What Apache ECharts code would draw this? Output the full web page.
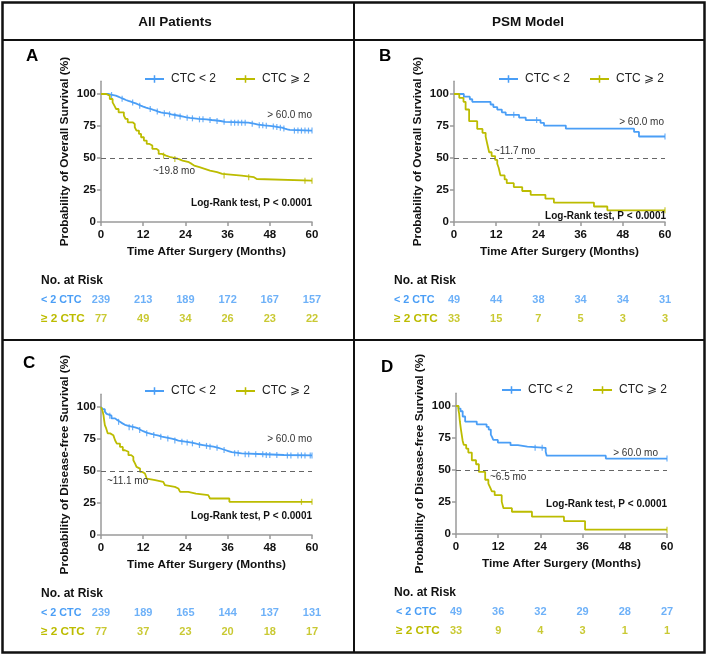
<!DOCTYPE html>
<html><head><meta charset="utf-8">
<script src="https://cdn.jsdelivr.net/npm/echarts@6/dist/echarts.min.js"></script>
<style>html,body{margin:0;padding:0;background:#fff}#c{width:708px;height:656px}</style>
</head><body><div id="c"></div>
<script>
// ---------- DATA ----------
const timeTicks = [0, 12, 24, 36, 48, 60];
const seriesNames = ['CTC < 2', 'CTC \u2A7E 2'];
const riskRowNames = ['< 2 CTC', '\u2265 2 CTC'];

// A: overall survival, all patients  [months, survival %]
const osAllLow = [[0,100],[2,99.6],[2.8,99.2],[3.5,98.7],[4.2,97.9],[4.9,97.1],[5.6,96.2],[6.4,95.3],[7.1,94.6],[7.8,94],[8.5,93.3],[9.2,92.7],[9.9,91.8],[10.6,90.9],[11.3,90.1],[12,89.3],[12.8,88.7],[13.5,88.3],[14.2,87.6],[14.9,87],[15.6,86.3],[16.3,85.7],[17,85.2],[17.7,84.9],[19.1,84.1],[20,83.6],[21,83],[22.2,82.4],[23.4,81.8],[24.3,81.4],[25.3,81],[26.5,80.6],[27.7,80.2],[30,79.7],[31.5,79.3],[32.9,78.9],[34,78.3],[35.3,77.6],[41.9,76.8],[43.5,76.1],[44.7,75.5],[46.5,75.1],[48,74.7],[49.2,74.2],[50.4,73.7],[51.5,73],[52.3,72.4],[53,71.9],[53.7,71.4],[60,71.4]];
const osAllHigh = [[0,100],[1.5,98.7],[2.5,96.1],[3.3,93.5],[3.8,90.9],[4.3,88.3],[5,85.7],[6.5,83.1],[7,80.5],[7.6,77.9],[9,76.6],[9.6,74],[10.1,71.4],[10.8,68.8],[11.4,66.2],[12.2,63.6],[13,61],[13.8,59.7],[14.6,57.1],[15.8,55.8],[16.4,53.2],[17.3,51.9],[18.5,50.6],[19.8,49.3],[22,48],[23.2,46.7],[25,45.4],[25.8,44.1],[26.5,42.8],[28,41.5],[29.5,40.2],[31,38.9],[33,37.6],[34.5,36.3],[40,35],[43.5,33.6],[44.3,32.3],[60,32.3]];
const osAllLowCens = [3,6,9,11,14,16,18,19.5,21,22.5,24.5,26,28,29,31,33,35,37,38,39,40,41,43,45,46,47,49,50,51,52,55,56,57,58,59,60];
const osAllHighCens = [17.8,21,35,42,58,60];
const osAllRiskLow = [239,213,189,172,167,157];
const osAllRiskHigh = [77,49,34,26,23,22];

// B: overall survival, PSM model
const osPsmLow = [[0,100],[2.8,97.9],[4.5,95.9],[5.2,93.9],[10.4,91.8],[11.2,89.8],[12.3,87.8],[13.6,85.7],[14.7,83.7],[18.5,81.6],[20.4,79.6],[24.6,77.5],[25.6,75.3],[31.8,72.9],[51.2,70.4],[52.6,66.8],[60,66.8]];
const osPsmHigh = [[0,100],[1.5,97],[2.7,93.9],[3.3,87.9],[4.3,78.8],[6.6,72.7],[8.1,69.7],[9,66.7],[9.5,60.6],[10,54.5],[10.7,51.5],[11.7,48.5],[12.3,45.5],[12.7,42.4],[13.2,36.4],[14.4,33.3],[15,30.3],[17,27.3],[19.4,24.2],[21.8,21.2],[26,18.2],[28.4,15.2],[39.8,12.1],[43.6,9.1],[60,9.1]];
const osPsmLowCens = [17,23.5,60];
const osPsmHighCens = [60];
const osPsmRiskLow = [49,44,38,34,34,31];
const osPsmRiskHigh = [33,15,7,5,3,3];

// C: disease-free survival, all patients
const dfsAllLow = [[0,100],[0.5,98.3],[1.1,96.4],[1.6,94.6],[2.1,93.2],[3,91.1],[4,89.6],[4.7,88.4],[5.4,87.2],[6.1,86.1],[6.8,85.2],[7.8,84.1],[9.7,83.3],[10.6,82],[11.3,81.1],[12,80.2],[12.8,79.5],[13.5,78.9],[14.5,78.2],[15.4,77.6],[16.4,76.8],[17.3,76],[18.7,75.3],[20.1,74.7],[21,73.8],[22,72.9],[24,72.2],[25.8,71.6],[26.8,70.9],[27.7,70.3],[29,69.6],[30.5,69],[32,68.1],[33.4,67.2],[34.4,66.4],[35.3,65.6],[36.2,64.7],[37.2,63.8],[40,63.1],[46.6,62.5],[52,62.2],[60,62.2]];
const dfsAllHigh = [[0,100],[0.4,97.4],[0.7,93.8],[0.9,89.6],[1.1,85.9],[1.5,83.1],[1.9,79.4],[2.6,78],[3.5,76.6],[4,74],[4.5,71.4],[5.4,68.8],[6.2,66.2],[6.8,65],[7.8,62.4],[8.6,61],[9.2,58.4],[9.7,55.8],[10.1,53.2],[10.6,51.9],[11.1,49.3],[11.8,48],[12.5,46.7],[13,44.1],[13.5,42.8],[15.4,41.5],[17.7,40.2],[18.2,38.9],[18.7,37.6],[21,36.3],[22,35],[22.5,33.7],[24.8,32.4],[27,31.1],[30.5,29.8],[31,28.5],[36.5,25.9],[60,25.9]];
const dfsAllLowCens = [2.5,5,8,9,11,13,15,17,19,21,23,24.5,26,28,30,31,33,35,38,39,41,42,44,46,47,48,50,53,54,56,57,58,59.5,60];
const dfsAllHighCens = [57,60];
const dfsAllRiskLow = [239,189,165,144,137,131];
const dfsAllRiskHigh = [77,37,23,20,18,17];

// D: disease-free survival, PSM model
const dfsPsmLow = [[0,100],[0.7,98],[1.3,95.9],[1.9,91.8],[2.6,87.8],[5.9,85.7],[8.7,83.7],[9.3,81.6],[9.9,77.6],[10.3,75.5],[10.6,73.5],[11.9,71.4],[15.5,69.4],[17.6,68.3],[20.3,67.3],[25.5,64.3],[25.8,61.2],[42.6,58.9],[60,58.9]];
const dfsPsmHigh = [[0,100],[0.7,97],[0.9,93.9],[1.1,87.9],[1.4,81.8],[1.9,72.7],[2.2,69.7],[2.9,66.7],[3.5,63.6],[4.5,57.6],[5.7,54.5],[6.5,48.5],[8.3,42.4],[9.2,39.4],[9.7,36.4],[10.2,33.3],[11,30.3],[13,25.3],[13.5,20.2],[15.9,17.4],[21.6,13.5],[30.7,10.1],[36.7,3.4],[60,3.4]];
const dfsPsmLowCens = [22.5,24.5,60];
const dfsPsmHighCens = [60];
const dfsPsmRiskLow = [49,36,32,29,28,27];
const dfsPsmRiskHigh = [33,9,4,3,1,1];

// ---------- STYLE / LAYOUT ----------
const FONT = '"Liberation Sans", Arial, Helvetica, sans-serif';
const BLUE = '#4a9ef6', YEL = '#bcbc00', AX = '#9a9a9a';

function survAt(curve, t) { let s = curve[0][1]; for (const p of curve) if (p[0] <= t) s = p[1]; return s; }

const panels = [
  { letter:'A', low:osAllLow, high:osAllHigh, lowC:osAllLowCens, highC:osAllHighCens, rLow:osAllRiskLow, rHigh:osAllRiskHigh,
    yName:'Probability of Overall Survival (%)', gx:101, gy0:222, gy100:94, legendX:140, legendY:75, riskY:300, letterX:26, letterY:57,
    ann:[['> 60.0 mo',312,115,'right',false],['~19.8 mo',153,171,'left',false],['Log-Rank test, P < 0.0001',312,203,'right',true]] },
  { letter:'B', low:osPsmLow, high:osPsmHigh, lowC:osPsmLowCens, highC:osPsmHighCens, rLow:osPsmRiskLow, rHigh:osPsmRiskHigh,
    yName:'Probability of Overall Survival (%)', gx:454, gy0:222, gy100:94, legendX:494, legendY:75, riskY:300, letterX:379, letterY:57,
    ann:[['> 60.0 mo',664,122,'right',false],['~11.7 mo',494,151,'left',false],['Log-Rank test, P < 0.0001',666,216,'right',true]] },
  { letter:'C', low:dfsAllLow, high:dfsAllHigh, lowC:dfsAllLowCens, highC:dfsAllHighCens, rLow:dfsAllRiskLow, rHigh:dfsAllRiskHigh,
    yName:'Probability of Disease-free Survival (%)', gx:101, gy0:535, gy100:407, legendX:140, legendY:387, riskY:613, letterX:23, letterY:364,
    ann:[['> 60.0 mo',312,439,'right',false],['~11.1 mo',107,481,'left',false],['Log-Rank test, P < 0.0001',312,516,'right',true]] },
  { letter:'D', low:dfsPsmLow, high:dfsPsmHigh, lowC:dfsPsmLowCens, highC:dfsPsmHighCens, rLow:dfsPsmRiskLow, rHigh:dfsPsmRiskHigh,
    yName:'Probability of Disease-free Survival (%)', gx:456, gy0:534, gy100:406, legendX:497, legendY:386, riskY:612, letterX:381, letterY:368,
    ann:[['> 60.0 mo',658,453,'right',false],['~6.5 mo',490,477,'left',false],['Log-Rank test, P < 0.0001',667,504,'right',true]] }
];

const grid = [], xAxis = [], yAxis = [], series = [], legend = [], graphic = [];
const plotW = 211;

panels.forEach((p, i) => {
  const ppu = (p.gy0 - p.gy100) / 100;
  const top = p.gy100 - 10 * ppu;
  grid.push({ left: p.gx, top: top, width: plotW, height: p.gy0 - top });
  const gi = grid.length - 1;
  xAxis.push({ gridIndex: gi, type: 'value', min: 0, max: 60, interval: 12,
    name: 'Time After Surgery (Months)', nameLocation: 'middle', nameGap: 24,
    nameTextStyle: { fontFamily: FONT, fontWeight: 'bold', fontSize: 11.8, color: '#111' },
    axisLine: { lineStyle: { color: AX, width: 1.5 } }, axisTick: { length: 4, lineStyle: { color: AX, width: 1.5 } },
    axisLabel: { margin: 7, fontFamily: FONT, fontWeight: 'bold', fontSize: 11.5, color: '#111' },
    splitLine: { show: false } });
  yAxis.push({ gridIndex: gi, type: 'value', min: 0, max: 110,
    name: p.yName, nameLocation: 'middle', nameGap: 30, nameRotate: 90,
    nameTextStyle: { fontFamily: FONT, fontWeight: 'bold', fontSize: 11.8, color: '#111' },
    axisLine: { show: true, lineStyle: { color: AX, width: 1.5 } },
    axisTick: { show: true, length: 4, lineStyle: { color: AX, width: 1.5 }, customValues: [0,25,50,75,100] },
    axisLabel: { margin: 5, fontFamily: FONT, fontWeight: 'bold', fontSize: 11.5, color: '#111', customValues: [0,25,50,75,100] },
    splitLine: { show: false } });

  series.push({ name: seriesNames[0], type: 'line', step: 'end', xAxisIndex: gi, yAxisIndex: gi, data: p.low,
    showSymbol: false, symbol: 'none', lineStyle: { color: BLUE, width: 1.8 }, itemStyle: { color: BLUE }, z: 3,
    markLine: { silent: true, symbol: 'none', label: { show: false }, lineStyle: { type: [5, 4], color: '#666', width: 1 }, data: [{ yAxis: 50 }] } });
  series.push({ name: seriesNames[1], type: 'line', step: 'end', xAxisIndex: gi, yAxisIndex: gi, data: p.high,
    showSymbol: false, symbol: 'none', lineStyle: { color: YEL, width: 1.8 }, itemStyle: { color: YEL }, z: 3 });
  series.push({ type: 'scatter', xAxisIndex: gi, yAxisIndex: gi, data: p.lowC.map(t => [t, survAt(p.low, t)]),
    symbol: 'rect', symbolSize: [1.2, 6], itemStyle: { color: BLUE }, z: 4, silent: true });
  series.push({ type: 'scatter', xAxisIndex: gi, yAxisIndex: gi, data: p.highC.map(t => [t, survAt(p.high, t)]),
    symbol: 'rect', symbolSize: [1.2, 6], itemStyle: { color: YEL }, z: 4, silent: true });

  legend.push({ left: p.legendX, top: p.legendY - 7, itemWidth: 19, itemHeight: 8, itemGap: 20, selectedMode: false,
    icon: 'path://M0,3H20V5H0Z M9.2,0H10.8V8H9.2Z',
    data: [{ name: seriesNames[0], itemStyle: { color: BLUE } }, { name: seriesNames[1], itemStyle: { color: YEL } }],
    textStyle: { fontFamily: FONT, fontSize: 12, color: '#222', padding: [0, 0, 0, 2] } });

  // risk table grid
  grid.push({ left: p.gx, top: p.riskY - 9.5, width: plotW, height: 38 });
  const ri = grid.length - 1;
  xAxis.push({ gridIndex: ri, type: 'value', min: 0, max: 60, show: false });
  yAxis.push({ gridIndex: ri, type: 'category', data: [riskRowNames[1], riskRowNames[0]],
    axisLine: { show: false }, axisTick: { show: false }, splitLine: { show: false },
    axisLabel: { margin: 60, align: 'left', fontFamily: FONT, fontWeight: 'bold', fontSize: 11,
      formatter: v => v === riskRowNames[0] ? '{b|' + v + '}' : '{y|' + v + '}',
      rich: { b: { color: BLUE, fontFamily: FONT, fontWeight: 'bold', fontSize: 10.8 },
              y: { color: YEL, fontFamily: FONT, fontWeight: 'bold', fontSize: 11.8 } } } });
  [[p.rLow, riskRowNames[0], BLUE], [p.rHigh, riskRowNames[1], YEL]].forEach(([vals, row, col]) => {
    series.push({ type: 'scatter', xAxisIndex: ri, yAxisIndex: ri, silent: true, symbolSize: 1,
      itemStyle: { color: 'rgba(0,0,0,0)' },
      data: timeTicks.map((t, k) => [t, row, vals[k]]),
      label: { show: true, position: 'inside', formatter: q => q.value[2], color: col,
        fontFamily: FONT, fontWeight: 'bold', fontSize: 11 } });
  });

  graphic.push({ type: 'text', left: p.letterX, top: p.letterY - 9, style: { text: p.letter, fill: '#000', fontFamily: FONT, fontWeight: 'bold', fontSize: 17 } });
  graphic.push({ type: 'text', x: p.letterX < 200 ? 41 : 394, y: p.riskY - 19, style: { text: 'No. at Risk', fill: '#111', fontFamily: FONT, fontWeight: 'bold', fontSize: 12, align: 'left', verticalAlign: 'middle' } });
  p.ann.forEach(a => graphic.push({ type: 'text', x: a[1], y: a[2], z: 10,
    style: { text: a[0], fill: a[4] ? '#111' : '#333', fontFamily: FONT, fontWeight: a[4] ? 'bold' : 'normal', fontSize: 10, align: a[3], verticalAlign: 'middle' } }));
});

// frame
graphic.push({ type: 'rect', shape: { x: 2.5, y: 2.5, width: 702, height: 650 }, style: { fill: 'none', stroke: '#111', lineWidth: 2.5 }, z: 20 });
graphic.push({ type: 'line', shape: { x1: 2, y1: 40, x2: 705, y2: 40 }, style: { stroke: '#111', lineWidth: 2 }, z: 20 });
graphic.push({ type: 'line', shape: { x1: 2, y1: 340, x2: 705, y2: 340 }, style: { stroke: '#111', lineWidth: 2 }, z: 20 });
graphic.push({ type: 'line', shape: { x1: 354, y1: 2, x2: 354, y2: 653 }, style: { stroke: '#111', lineWidth: 2 }, z: 20 });
graphic.push({ type: 'text', x: 175, y: 22, style: { text: 'All Patients', fill: '#111', fontFamily: FONT, fontWeight: 'bold', fontSize: 13.5, align: 'center', verticalAlign: 'middle' } });
graphic.push({ type: 'text', x: 528, y: 22, style: { text: 'PSM Model', fill: '#111', fontFamily: FONT, fontWeight: 'bold', fontSize: 13.5, align: 'center', verticalAlign: 'middle' } });

const chart = echarts.init(document.getElementById('c'), null, { renderer: 'canvas' });
chart.setOption({ backgroundColor: '#fff', animation: false, grid, xAxis, yAxis, series, legend, graphic });
</script></body></html>
